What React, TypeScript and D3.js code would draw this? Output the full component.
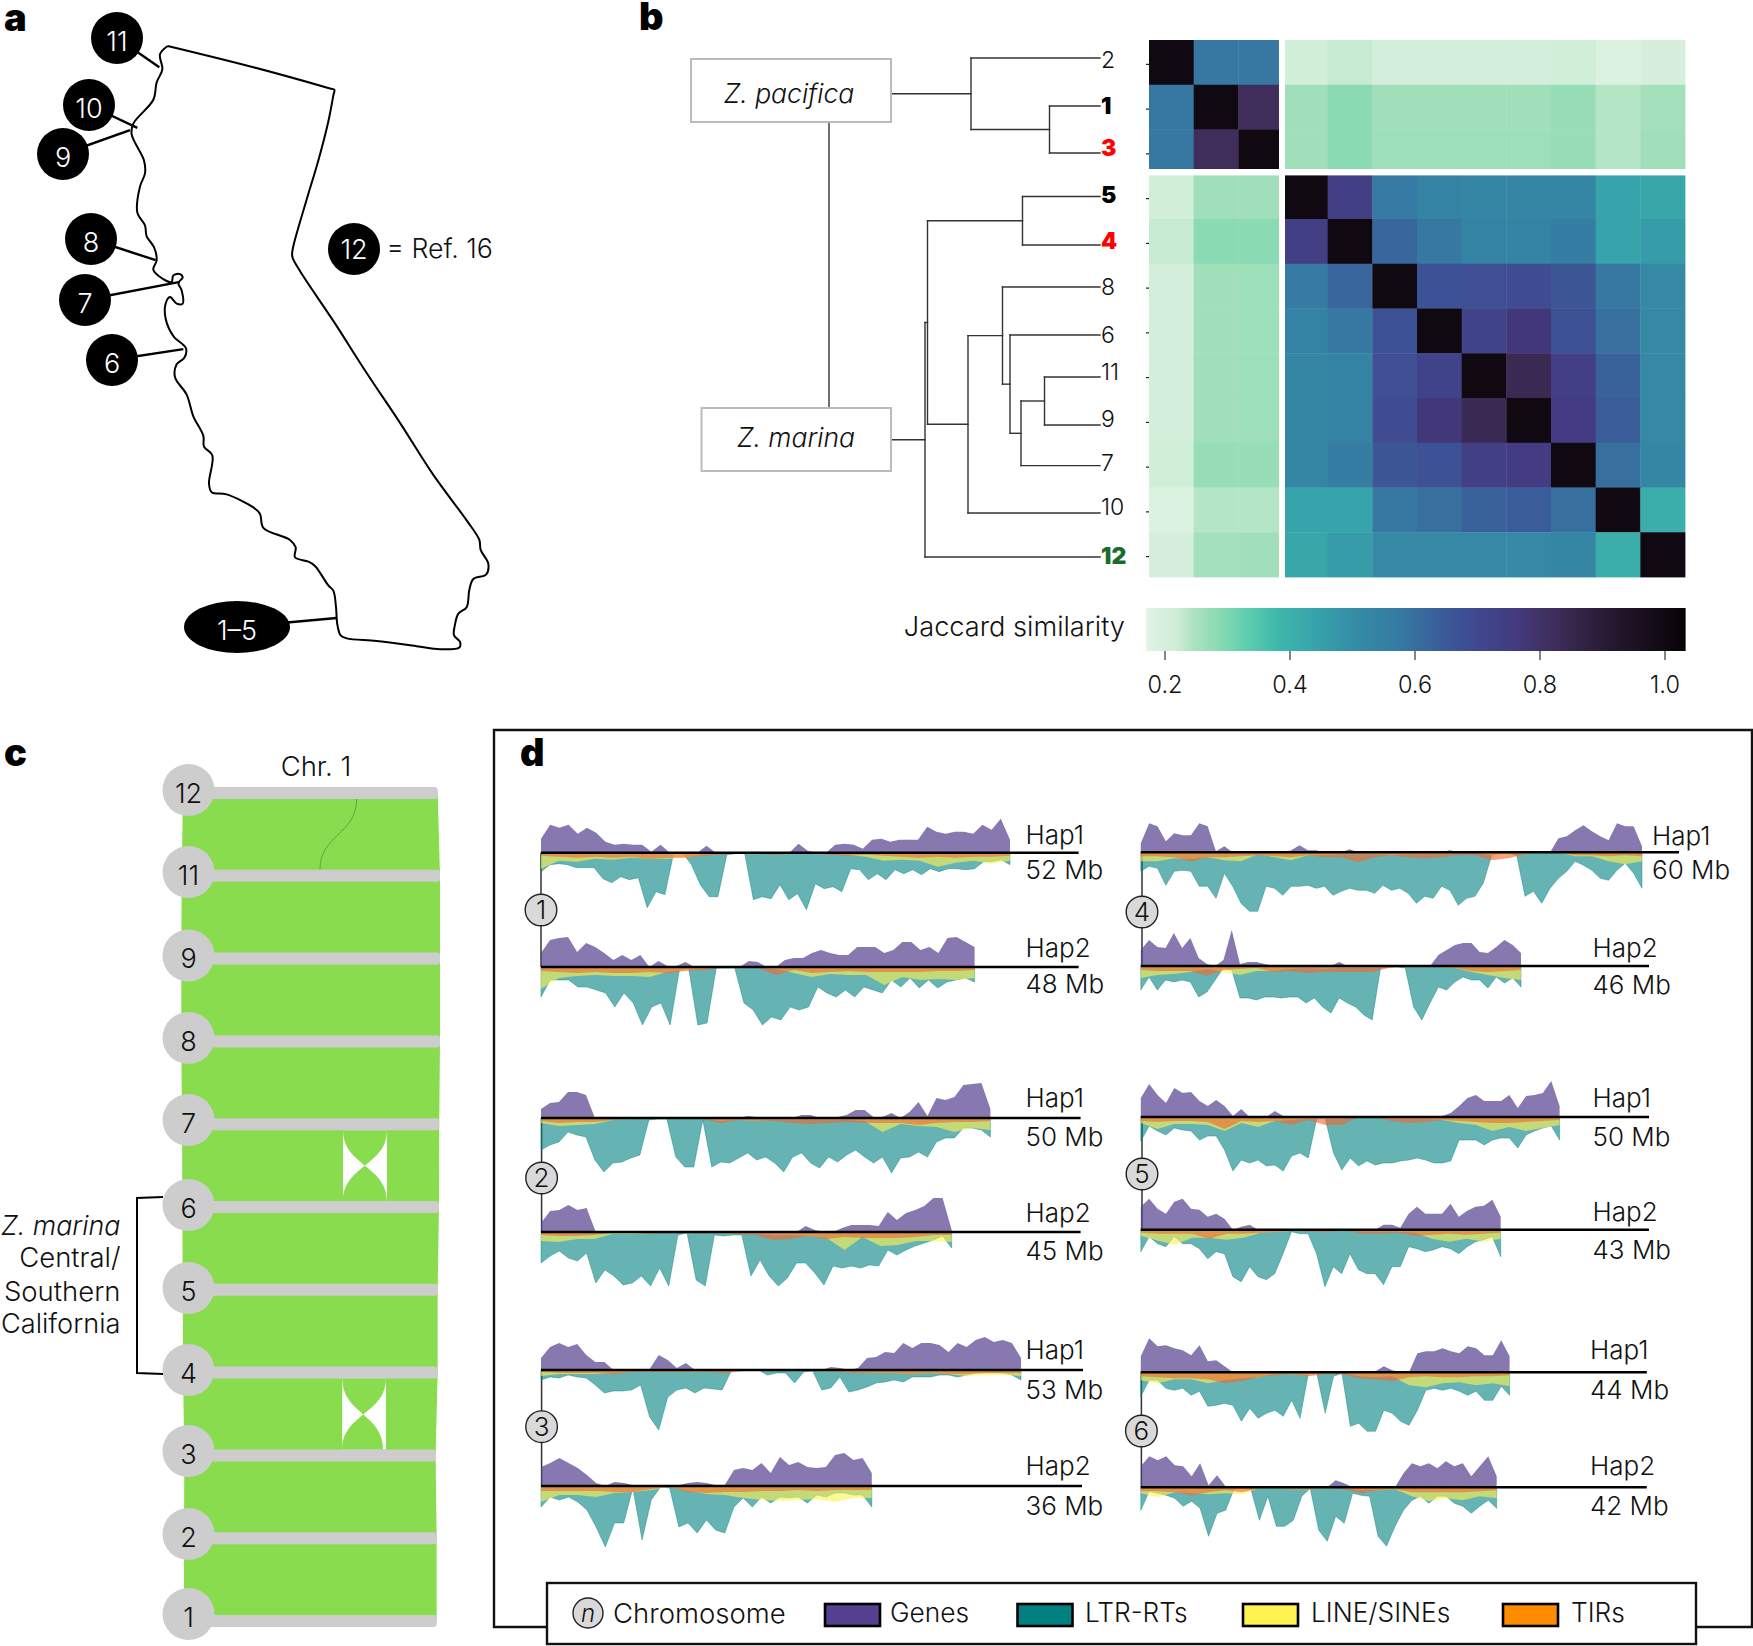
import React from 'react';
import * as d3 from 'd3';

const californiaOutline: [number, number][] = [
  [503,106],[760,155],[990,204],[1003,207],[1000,220],[985,280],[955,370],[920,460],[878,575],[877,592],[900,625],[1000,740],[1100,860],[1200,975],[1300,1095],[1400,1200],[1438,1245],[1442,1268],[1465,1300],[1458,1325],[1420,1335],[1408,1360],[1400,1400],[1375,1415],[1365,1440],[1362,1465],[1380,1480],[1378,1493],[1320,1497],[1250,1490],[1130,1478],[1040,1472],[1022,1465],[1012,1440],[1008,1400],[1000,1362],[985,1350],[945,1305],[925,1295],[885,1285],[887,1262],[870,1245],[790,1217],[780,1185],[760,1170],[680,1140],[635,1135],[627,1115],[637,1050],[612,1030],[610,1005],[580,960],[560,910],[525,870],[530,840],[553,825],[558,803],[520,775],[497,735],[497,700],[510,685],[530,700],[548,700],[545,670],[535,652],[548,640],[540,632],[520,635],[515,650],[500,648],[460,622],[470,600],[462,570],[440,545],[435,520],[412,490],[420,430],[435,400],[432,370],[395,310],[400,285],[460,230],[470,190],[487,160],[480,125],[503,106],
];
const siteLabels = ['11', '10', '9', '8', '7', '6', '1–5'];
const siteMarkers: [number, number][] = [[117,38],[89,105],[63,154],[91,239],[85,300],[112,360],[237,627]];
const siteCoast: [number, number][] = [[478,155],[412,295],[390,300],[467,600],[540,650],[550,805],[1010,1425]];

// panel b
const genomes = ['2', '1', '3', '5', '4', '8', '6', '11', '9', '7', '10', '12'];
const jaccard = [
  [1, .58, .58, .21, .225, .205, .205, .205, .205, .21, .185, .2],
  [.58, 1, .82, .26, .285, .26, .26, .26, .26, .27, .24, .255],
  [.58, .82, 1, .26, .285, .265, .265, .265, .265, .27, .24, .26],
  [.21, .26, .26, 1, .74, .57, .54, .53, .53, .53, .44, .43],
  [.225, .285, .285, .74, 1, .62, .58, .54, .54, .56, .44, .46],
  [.205, .26, .265, .57, .62, 1, .67, .68, .69, .66, .58, .52],
  [.205, .26, .265, .54, .58, .67, 1, .72, .77, .67, .6, .52],
  [.205, .26, .265, .53, .54, .68, .72, 1, .84, .74, .63, .52],
  [.205, .26, .265, .53, .54, .69, .77, .84, 1, .75, .64, .52],
  [.21, .27, .27, .53, .56, .66, .67, .74, .75, 1, .6, .53],
  [.185, .24, .24, .44, .44, .58, .6, .63, .64, .6, 1, .41],
  [.2, .255, .26, .43, .46, .52, .52, .52, .52, .53, .41, 1],
];
const boldTips: Record<string, string> = { '1': '#000', '3': '#f00', '5': '#000', '4': '#f00', '12': '#1a6b2c' };
const colorStops = [.17, .22, .25, .28, .33, .38, .44, .5, .58, .64, .7, .76, .82, .9, 1.033];
const colorValues = ['#e2f4e6', '#cdecd6', '#a8e1bc', '#8fdcb5', '#5ecfae', '#3fb8ac', '#37a3aa', '#348ea6', '#3678a2', '#3a5d9a', '#40488f', '#433a7f', '#3f2e5c', '#2a1b36', '#070305'];
const colorTicks = [.2, .4, .6, .8, 1];
// dendrogram leaves do not sit exactly on the row centres
const tipRows = [58, 106, 153, 196.5, 245, 287, 335, 377, 425, 465.6, 513, 557];
const tipLabelRows = [60, 106, 148, 195, 241, 287, 335, 372, 419, 463, 507, 555.6];

type Branch = { h: number; name?: string; children?: Branch[] };
const pacificaTree: Branch = { h: .258, children: [{ h: 0, name: '2' }, { h: .101, children: [{ h: 0, name: '1' }, { h: 0, name: '3' }] }] };
const marinaTree: Branch = {
  h: .35, children: [
    { h: .345, children: [
      { h: .155, children: [{ h: 0, name: '5' }, { h: 0, name: '4' }] },
      { h: .264, children: [
        { h: .195, children: [
          { h: 0, name: '8' },
          { h: .18, children: [
            { h: 0, name: '6' },
            { h: .158, children: [
              { h: .111, children: [{ h: 0, name: '11' }, { h: 0, name: '9' }] },
              { h: 0, name: '7' },
            ] },
          ] },
        ] },
        { h: 0, name: '10' },
      ] },
    ] },
    { h: 0, name: '12' },
  ],
};

// panel c
const syntenyOrder = ['12', '11', '9', '8', '7', '6', '5', '4', '3', '2', '1'];
const syntenyNodeY = [790, 872, 955.5, 1038, 1120, 1205, 1288, 1370, 1451, 1534, 1614];
const chrStart = [.66, .15, 0, 0, .27, .39, .54, .66, 1.16, 1.04, 1.04];
const chrEnd = [99.1, 100, 100, 100, 99.7, 99.6, 99.1, 99.1, 98.3, 98.7, 98.7];
const inversions = [
  { upper: '7', lower: '6', from: 62.5, to: 79.5, lowerFrom: 62.5, lowerTo: 79.5 },
  { upper: '4', lower: '3', from: 62.2, to: 79.1, lowerFrom: 62.2, lowerTo: 78 },
];
const translocation = { upper: '12', lower: '11', from: 67.8, to: 53.6 };

// panel d: densities read per Mb (genes, LTR-RTs) and per 2 Mb (TIRs, LINE/SINEs)
const c1h1Genes = [14,28,25,28,19,25,20,11,8,9,8,8,1,8,0,0,0,0,7,0,0,0,0,0,0,0,0,0,9,2,0,0,8,9,8,4,13,14,11,13,13,13,26,21,19,21,21,19,28,23,34,13];
const c1h1Ltr = [19,12,11,12,15,15,15,26,30,24,27,25,55,39,42,0,0,12,32,44,44,2,1,0,47,44,46,32,47,41,57,31,36,34,39,16,17,27,21,27,17,21,17,22,16,19,16,16,17,16,9,9,7,12];
const c1h1Tir = [3,4,5,4,5,4,6,5,5,3,2,1,1,2,0,0,2,3,2,3,4,5,4,5,4,4,3];
const c1h1Line = [16,8,9,6,7,5,6,6,5,2,1,1,1,1,0,0,1,2,4,8,7,8,14,10,8,11,8];
const c1h2Genes = [14,27,29,30,15,24,20,14,7,12,7,12,0,6,1,1,5,0,0,0,0,0,0,6,5,0,0,7,9,9,14,17,14,12,12,20,20,20,14,17,25,25,17,20,14,29,30,25,20];
const c1h2Ltr = [30,13,13,13,20,20,23,26,40,26,36,58,40,36,58,3,1,58,56,1,1,1,36,43,58,50,53,40,43,40,20,26,30,23,30,20,23,26,13,20,11,21,13,21,15,13,11,15];
const c1h2Tir = [4,5,6,5,6,6,5,6,4,3,1,0,1,8,3,6,5,4,5,5,5,5,4,4,3];
const c1h2Line = [22,11,9,8,9,9,10,5,3,2,0,0,1,2,6,10,7,8,8,18,10,13,12,13,11];
const c4h1Genes = [9,29,26,11,19,17,17,29,26,1,6,0,0,0,0,0,0,0,2,7,2,2,0,0,0,3,0,0,0,0,0,0,0,0,0,0,0,2,0,0,0,0,0,0,0,0,0,0,0,0,14,16,22,27,21,16,12,29,26,26,6];
const c4h1Ltr = [19,14,16,33,19,18,19,34,34,46,21,34,51,59,59,34,36,43,34,34,33,36,34,43,39,36,38,38,41,33,38,36,41,51,44,46,34,38,53,46,44,31,3,1,1,3,44,39,51,36,26,19,9,13,18,26,28,18,11,21,36];
const c4h1Tir = [4,4,5,9,5,5,4,3,4,5,3,5,5,10,5,3,5,6,5,3,3,8,6,2,0,0,3,3,4,3,4];
const c4h1Line = [9,9,6,7,5,8,9,2,5,8,3,3,2,2,2,3,2,2,2,2,1,3,2,2,0,0,4,4,9,12,9];
const c4h2Genes = [16,26,19,18,33,18,28,8,2,0,6,36,2,4,4,2,0,0,0,0,0,0,0,0,4,0,0,0,0,0,0,0,0,0,0,0,11,16,21,23,23,14,13,19,26,21,13];
const c4h2Ltr = [24,11,24,14,16,14,16,31,26,14,2,4,32,32,34,31,31,32,31,31,37,32,41,47,32,37,41,49,54,2,1,1,2,41,54,37,21,24,16,11,14,14,22,11,17,12,21];
const c4h2Tir = [4,5,5,5,10,4,3,2,6,5,7,6,6,6,6,2,0,0,1,2,5,6,5,4];
const c4h2Line = [12,9,8,6,3,6,9,5,5,3,2,3,2,2,2,1,0,0,1,2,6,9,12,14];
const c2h1Genes = [9,15,16,26,26,23,0,0,0,0,0,0,0,0,0,0,0,0,0,0,0,0,0,2,1,0,0,0,0,3,3,0,0,1,3,8,8,1,1,5,0,6,16,2,20,18,21,33,34,35,9];
const c2h1Ltr = [32,27,24,14,17,19,42,54,45,44,40,37,2,1,1,39,49,49,2,49,44,45,40,35,42,39,45,54,39,35,45,50,39,44,37,32,39,45,39,55,40,39,34,39,24,20,20,10,10,12,19];
const c2h1Tir = [3,5,4,4,2,1,1,0,1,1,5,2,3,3,5,6,5,4,5,5,5,7,5,4,4,3];
const c2h1Line = [5,8,7,6,2,1,1,0,1,1,3,2,3,2,2,2,2,2,3,14,6,8,9,14,10,12];
const c2h2Genes = [9,21,22,27,22,24,0,0,0,0,0,0,0,0,0,0,0,0,0,0,0,0,1,0,0,0,0,0,0,6,2,0,0,4,7,7,7,6,20,12,19,22,26,34,34,2];
const c2h2Ltr = [31,24,19,26,29,21,51,38,44,53,51,44,54,36,54,3,1,48,54,3,4,3,3,44,28,44,54,46,31,31,41,53,34,36,34,36,33,34,18,23,18,14,11,8,4,16];
const c2h2Tir = [3,4,4,3,1,1,2,0,0,1,1,2,3,8,7,4,7,5,6,6,6,5,3,3];
const c2h2Line = [9,10,7,7,2,2,2,0,0,1,1,2,2,3,3,4,6,18,5,14,13,9,9,10];
const c5h1Genes = [19,33,22,14,29,24,25,16,11,17,11,1,8,0,0,0,6,1,0,0,0,0,0,0,0,0,0,0,0,0,0,0,0,0,0,0,1,4,11,19,22,16,16,16,22,9,21,22,24,36,11];
const c5h1Ltr = [24,9,14,18,11,13,14,23,19,19,33,54,43,46,43,49,48,54,39,36,41,2,1,36,53,41,49,44,48,46,46,44,43,41,43,46,46,44,23,23,23,28,23,21,21,31,18,14,11,9,23];
const c5h1Tir = [4,5,4,4,5,12,4,5,4,8,3,8,8,0,0,4,6,5,3,4,5,6,6,5,4,3];
const c5h1Line = [6,12,7,7,8,14,6,10,4,3,2,2,2,0,0,2,2,2,3,6,8,14,10,14,11,8];
const c5h2Genes = [23,31,21,16,28,31,21,20,13,16,11,0,3,5,0,0,0,0,0,0,0,0,0,0,0,0,0,0,0,5,5,2,16,23,16,16,16,26,13,19,23,24,30,13];
const c5h2Ltr = [22,7,14,17,7,14,14,19,29,22,24,47,52,37,47,50,44,24,2,4,4,24,57,37,44,24,40,44,44,55,37,37,17,19,22,20,17,19,24,17,12,10,7,27];
const c5h2Tir = [3,4,4,4,9,4,4,3,2,1,2,2,1,4,4,3,6,5,4,5,4,3];
const c5h2Line = [6,11,15,8,8,10,8,3,2,1,1,1,1,2,2,2,3,9,12,9,12,9];
const c3h1Genes = [12,23,27,23,26,15,8,8,0,0,0,0,1,15,10,2,7,0,0,0,0,0,0,0,0,0,0,0,0,0,0,0,3,2,0,2,12,13,18,17,27,22,27,27,25,18,27,23,30,33,28,30,27,12];
const c3h1Ltr = [10,7,8,5,7,8,15,23,21,21,20,15,47,60,27,20,18,23,18,19,20,1,0,0,0,5,3,3,13,2,1,20,18,7,22,20,17,13,12,10,12,7,7,7,5,5,7,5,3,3,3,3,5,10];
const c3h1Tir = [2,3,3,3,4,2,2,2,2,2,3,1,0,1,0,1,2,3,3,3,4,3,4,4,3,3,3];
const c3h1Line = [6,4,4,4,3,2,2,2,2,2,2,1,0,1,0,1,2,2,3,3,4,3,4,6,5,5,6];
const c3h2Genes = [19,23,28,23,18,11,3,0,4,3,1,0,0,0,0,1,3,4,3,1,1,16,18,16,23,13,29,21,24,19,18,19,31,33,26,28,13];
const c3h2Ltr = [21,11,14,11,16,24,41,61,37,37,2,54,14,1,2,41,37,47,34,44,47,21,12,21,11,17,11,12,11,17,9,11,7,7,9,9,21];
const c3h2Tir = [5,5,5,5,6,6,3,1,6,7,6,6,5,5,4,5,4,4,4];
const c3h2Line = [16,9,9,11,7,6,4,1,5,8,9,12,14,15,14,13,16,12,12];
const c6h1Genes = [16,34,26,27,24,22,17,27,11,12,6,0,0,0,0,0,0,0,0,0,0,0,0,0,0,0,0,0,1,6,2,0,0,19,21,21,24,21,19,26,24,17,17,32,16];
const c6h1Ltr = [24,8,8,16,18,16,23,19,34,33,31,33,49,36,46,41,38,44,28,46,1,1,41,4,1,54,51,59,59,38,41,49,53,38,18,16,18,16,19,23,19,28,28,14,23];
const c6h1Tir = [4,5,6,6,7,11,9,5,3,2,4,2,2,6,7,9,5,4,5,5,4,4,3];
const c6h1Line = [8,11,7,7,11,8,6,5,2,2,3,1,1,4,5,4,13,15,11,10,13,11,14];
const c6h2Genes = [21,31,27,31,22,21,11,24,2,12,1,0,0,0,0,0,0,0,0,0,0,0,0,7,4,0,0,0,0,0,0,14,24,21,24,19,26,21,24,11,21,31,11];
const c6h2Ltr = [23,4,6,8,11,19,14,21,49,26,23,2,1,2,33,9,39,39,33,9,1,43,54,29,36,6,8,9,49,59,39,23,13,9,16,9,9,16,19,26,19,13,21];
const c6h2Tir = [4,4,5,8,5,3,5,1,1,2,2,1,2,6,3,2,5,5,5,5,4,3];
const c6h2Line = [6,10,5,6,7,6,7,1,1,2,2,1,1,3,3,2,9,14,11,13,9,11];

const chromosomes = [
  { n: 1, col: 0, cx: 541, cy: 910, labelX: 1025.5, haps: [
    { mb: 52, base: 852.7, endX: 1010, lineEnd: 1078.6, hapY: 835, mbY: 870, genes: c1h1Genes, ltr: c1h1Ltr, tir: c1h1Tir, line: c1h1Line },
    { mb: 48, base: 967, endX: 974.6, lineEnd: 1078.6, hapY: 947.7, mbY: 984, genes: c1h2Genes, ltr: c1h2Ltr, tir: c1h2Tir, line: c1h2Line },
  ] },
  { n: 2, col: 0, cx: 541.6, cy: 1178, labelX: 1025.5, haps: [
    { mb: 50, base: 1118, endX: 990.4, lineEnd: 1080.6, hapY: 1098, mbY: 1136.7, genes: c2h1Genes, ltr: c2h1Ltr, tir: c2h1Tir, line: c2h1Line },
    { mb: 45, base: 1232, endX: 951.7, lineEnd: 1080.6, hapY: 1212.7, mbY: 1250.7, genes: c2h2Genes, ltr: c2h2Ltr, tir: c2h2Tir, line: c2h2Line },
  ] },
  { n: 3, col: 0, cx: 541.6, cy: 1426.7, labelX: 1025.5, haps: [
    { mb: 53, base: 1370, endX: 1021, lineEnd: 1083, hapY: 1350, mbY: 1390, genes: c3h1Genes, ltr: c3h1Ltr, tir: c3h1Tir, line: c3h1Line },
    { mb: 36, base: 1486, endX: 871.8, lineEnd: 1082, hapY: 1465.7, mbY: 1506, genes: c3h2Genes, ltr: c3h2Ltr, tir: c3h2Tir, line: c3h2Line },
  ] },
  { n: 4, col: 1, cx: 1142, cy: 912, labelX: 1652, haps: [
    { mb: 60, base: 852.3, endX: 1642, lineEnd: 1679, hapY: 835.7, mbY: 870, genes: c4h1Genes, ltr: c4h1Ltr, tir: c4h1Tir, line: c4h1Line },
    { mb: 46, base: 966, endX: 1521, lineEnd: 1649, hapY: 947.7, mbY: 985, labelX: 1592.5, genes: c4h2Genes, ltr: c4h2Ltr, tir: c4h2Tir, line: c4h2Line },
  ] },
  { n: 5, col: 1, cx: 1142, cy: 1174, labelX: 1592.5, haps: [
    { mb: 50, base: 1117, endX: 1559.6, lineEnd: 1649, hapY: 1097.7, mbY: 1136.7, genes: c5h1Genes, ltr: c5h1Ltr, tir: c5h1Tir, line: c5h1Line },
    { mb: 43, base: 1229.7, endX: 1500.7, lineEnd: 1649, hapY: 1211.7, mbY: 1250, genes: c5h2Genes, ltr: c5h2Ltr, tir: c5h2Tir, line: c5h2Line },
  ] },
  { n: 6, col: 1, cx: 1141.4, cy: 1431, labelX: 1590, haps: [
    { mb: 44, base: 1372.3, endX: 1509.6, lineEnd: 1646.8, hapY: 1350, mbY: 1390, genes: c6h1Genes, ltr: c6h1Ltr, tir: c6h1Tir, line: c6h1Line },
    { mb: 42, base: 1487.3, endX: 1496.7, lineEnd: 1646.8, hapY: 1465.7, mbY: 1505.7, genes: c6h2Genes, ltr: c6h2Ltr, tir: c6h2Tir, line: c6h2Line },
  ] },
];
const columnStart = [541, 1140.8];
const legendItems = [
  { label: 'Genes', color: '#54408f', x: 825, tx: 890 },
  { label: 'LTR-RTs', color: '#008080', x: 1017.5, tx: 1085 },
  { label: 'LINE/SINEs', color: '#fff350', x: 1243, tx: 1311 },
  { label: 'TIRs', color: '#ff8c00', x: 1503, tx: 1571 },
];

const FONT = 'Inter, Roboto, sans-serif';

const Label: React.FC<any> = ({ x, y, size = 26, children, ...rest }) => (
  <text x={x} y={y} dy="0.36em" fontSize={size} fontFamily={FONT} fontWeight={300} fill="#111" {...rest}>{children}</text>
);

const PanelLetter: React.FC<{ x: number; y: number; t: string }> = ({ x, y, t }) => (
  <text x={x} y={y} fontSize={38} fontFamily={FONT} fontWeight={900} fill="#000">{t}</text>
);

const MapPanel = () => {
  const mx = d3.scaleLinear().domain([0, 1560]).range([0, 520]);
  const my = d3.scaleLinear().domain([0, 1568]).range([0, 680]);
  const outline = d3.line<[number, number]>().x(d => mx(d[0])).y(d => my(d[1])).curve(d3.curveCatmullRom.alpha(0.5));
  return (
    <g>
      <path d={outline(californiaOutline)!} fill="none" stroke="#000" strokeWidth={2} />
      {siteLabels.map((s, i) => (
        <g key={s}>
          <line x1={siteMarkers[i][0]} y1={siteMarkers[i][1]} x2={mx(siteCoast[i][0])} y2={my(siteCoast[i][1])} stroke="#000" strokeWidth={2.4} />
          <ellipse cx={siteMarkers[i][0]} cy={siteMarkers[i][1]} rx={s === '1–5' ? 53 : 26} ry={26} fill="#000" />
          <Label x={siteMarkers[i][0]} y={siteMarkers[i][1] + 3} size={27} textAnchor="middle" fill="#fff">{s}</Label>
        </g>
      ))}
      <circle cx={354} cy={249} r={26} fill="#000" />
      <Label x={354} y={249} size={27} textAnchor="middle" fill="#fff">12</Label>
      <Label x={386.5} y={248.5} size={26.7}>= Ref. 16</Label>
    </g>
  );
};

const TreeBranches: React.FC<{ data: Branch; tx: (h: number) => number; tipY: (name: string) => number; stemFrom: number }> = ({ data, tx, tipY, stemFrom }) => {
  const root = d3.hierarchy(data);
  const yOf = new Map<any, number>();
  root.eachAfter(n => {
    if (n.children) {
      yOf.set(n, (yOf.get(n.children[0])! + yOf.get(n.children[n.children.length - 1])!) / 2);
    } else {
      yOf.set(n, tipY(n.data.name!));
    }
  });
  const segs: [number, number, number, number][] = [[stemFrom, yOf.get(root)!, tx(root.data.h), yOf.get(root)!]];
  root.each(n => {
    if (!n.children) return;
    const x = tx(n.data.h);
    segs.push([x, yOf.get(n.children[0])!, x, yOf.get(n.children[n.children.length - 1])!]);
    n.children.forEach(c => segs.push([x, yOf.get(c)!, tx(c.data.h), yOf.get(c)!]));
  });
  return <g stroke="#333" strokeWidth={1.4}>{segs.map((s, i) => <line key={i} x1={s[0]} y1={s[1]} x2={s[2]} y2={s[3]} strokeLinecap="square" />)}</g>;
};

const HeatPanel = () => {
  const bx = d3.scaleBand().domain(genomes).range([1149, 1685]);
  const by = d3.scaleBand().domain(genomes).range([40, 577]);
  const color = d3.scaleLinear<string>().domain(colorStops).range(colorValues).interpolate(d3.interpolateRgb);
  const barX = d3.scaleLinear().domain([.2, 1]).range([1165, 1665]);
  const offset = d3.scaleLinear().domain([colorStops[0], colorStops[colorStops.length - 1]]).range([0, 100]);
  const tx = d3.scaleLinear().domain([0, .35]).range([1100, 925]);
  const tipY = (name: string) => tipRows[genomes.indexOf(name)];
  const rowMid = (g: string) => by(g)! + by.bandwidth() / 2;
  return (
    <g>
      <defs>
        <linearGradient id="jaccardRamp" x1="0" x2="1" y1="0" y2="0">
          {colorStops.map((s, i) => <stop key={s} offset={`${offset(s)}%`} stopColor={colorValues[i]} />)}
        </linearGradient>
      </defs>
      {jaccard.map((row, r) => row.map((v, c) => (
        <rect key={`${r}-${c}`} x={bx(genomes[c])} y={by(genomes[r])} width={bx.bandwidth() + .4} height={by.bandwidth() + .4} fill={color(v)} />
      )))}
      <rect x={1279} y={38} width={6} height={541} fill="#fff" />
      <rect x={1147} y={169} width={540} height={6.4} fill="#fff" />
      {genomes.map(g => <line key={g} x1={1146} x2={1149} y1={rowMid(g) + 2} y2={rowMid(g) + 2} stroke="#222" strokeWidth={1.2} />)}
      <TreeBranches data={pacificaTree} tx={tx} tipY={tipY} stemFrom={892} />
      <TreeBranches data={marinaTree} tx={tx} tipY={tipY} stemFrom={892} />
      {genomes.map((g, i) => (
        <Label key={g} x={1101} y={tipLabelRows[i]} size={23} fontWeight={boldTips[g] ? 900 : 300} fill={boldTips[g] || '#111'}>{g}</Label>
      ))}
      <line x1={829} x2={829} y1={123} y2={407} stroke="#333" strokeWidth={1.4} />
      <rect x={691} y={59} width={200} height={63} fill="#fff" stroke="#bbb" strokeWidth={2} />
      <rect x={701.5} y={408} width={189.5} height={63} fill="#fff" stroke="#bbb" strokeWidth={2} />
      <Label x={789} y={93} size={26.5} textAnchor="middle" fontStyle="italic">Z. pacifica</Label>
      <Label x={796} y={437} size={26.5} textAnchor="middle" fontStyle="italic">Z. marina</Label>
      <Label x={1125} y={626} size={27.2} textAnchor="end">Jaccard similarity</Label>
      <rect x={barX(.17)} y={608} width={barX(1.033) - barX(.17)} height={43} fill="url(#jaccardRamp)" />
      {colorTicks.map(t => (
        <g key={t}>
          <line x1={barX(t)} x2={barX(t)} y1={651} y2={660} stroke="#333" strokeWidth={1.2} />
          <Label x={barX(t)} y={685} size={23.5} textAnchor="middle">{t.toFixed(1)}</Label>
        </g>
      ))}
    </g>
  );
};

const SyntenyPanel = () => {
  const sy = d3.scalePoint().domain(syntenyOrder).range([793, 1621]);
  const sx = d3.scaleLinear().domain([0, 100]).range([181.3, 440]);
  const ribbon = d3.area<string>()
    .y(d => sy(d)!)
    .x0((_, i) => sx(chrStart[i]))
    .x1((_, i) => sx(chrEnd[i]));
  const link = d3.linkVertical<any, [number, number]>().x(d => d[0]).y(d => d[1]);
  const endLink = (a: [number, number], b: [number, number]) => link({ source: a, target: b })!.replace('M', 'L');
  return (
    <g>
      <path d={ribbon(syntenyOrder)!} fill="#88dc4e" />
      {inversions.map(inv => {
        const top = sy(inv.upper)! + 6;
        const bot = sy(inv.lower)! - 6;
        const xl = sx(inv.from), xr = sx(inv.to), lxl = sx(inv.lowerFrom), lxr = sx(inv.lowerTo);
        const d = `M${xl},${top}L${xr},${top}${endLink([xr, top], [lxl, bot])}L${lxr},${bot}${endLink([lxr, bot], [xl, top])}Z`;
        return (
          <g key={inv.upper}>
            <rect x={xl} y={top} width={xr - xl} height={bot - top} fill="#fff" />
            <path d={d} fill="#88dc4e" />
          </g>
        );
      })}
      <path d={link({ source: [sx(translocation.from), sy(translocation.upper)! + 6], target: [sx(translocation.to), sy(translocation.lower)! - 6] })!} fill="none" stroke="#4a7a3a" strokeWidth={0.6} />
      {syntenyOrder.map((s, i) => (
        <rect key={s} x={185} y={sy(s)! - 6} width={sx(chrEnd[i]) - 185} height={12} rx={3} fill="#cdcdcd" />
      ))}
      {syntenyOrder.map((s, i) => (
        <g key={s}>
          <circle cx={188.5} cy={syntenyNodeY[i]} r={26} fill="#cdcdcd" />
          <Label x={188.5} y={syntenyNodeY[i] + 3} size={27} textAnchor="middle">{s}</Label>
        </g>
      ))}
      <Label x={316} y={766} size={27.5} textAnchor="middle">Chr. 1</Label>
      <path d="M163,1197L137,1198L137,1373L163,1374" fill="none" stroke="#000" strokeWidth={2} />
      <Label x={120.5} y={1225} size={26.8} textAnchor="end" fontStyle="italic">Z. marina</Label>
      <Label x={120.5} y={1257} size={27.5} textAnchor="end">Central/</Label>
      <Label x={120.5} y={1291} size={27.5} textAnchor="end">Southern</Label>
      <Label x={120.5} y={1323} size={27.2} textAnchor="end">California</Label>
    </g>
  );
};

const HapTrack: React.FC<{ hap: any; col: number }> = ({ hap, col }) => {
  const x0 = columnStart[col];
  const up = d3.scaleLinear().domain([0, 60]).range([hap.base, hap.base - 60]);
  const down = d3.scaleLinear().domain([0, 60]).range([hap.base, hap.base + 60]);
  const areaFor = (values: number[], y: d3.ScaleLinear<number, number>) => {
    const x = d3.scaleLinear().domain([0, values.length - 1]).range([x0, hap.endX]);
    return d3.area<number>().x((_, i) => x(i)).y0(hap.base).y1(d => y(d))(values)!;
  };
  return (
    <g>
      <path d={areaFor(hap.ltr, down)} fill="#008080" fillOpacity={0.6} stroke="#008080" strokeOpacity={0.5} strokeWidth={0.8} />
      <path d={areaFor(hap.line, down)} fill="#fff350" fillOpacity={0.6} />
      <path d={areaFor(hap.tir, down)} fill="#f4652a" fillOpacity={0.6} />
      <path d={areaFor(hap.genes, up)} fill="#54408f" fillOpacity={0.7} />
      <line x1={x0} x2={hap.lineEnd} y1={hap.base} y2={hap.base} stroke="#000" strokeWidth={2.4} />
    </g>
  );
};

const GenomePanel = () => (
  <g>
    <path d="M547,1627L494,1627L494,730L1752,730L1752,1627L1696,1627" fill="none" stroke="#111" strokeWidth={2.4} />
    {chromosomes.map(c => (
      <g key={c.n}>
        <line x1={c.cx} x2={c.cx} y1={c.haps[0].base} y2={c.haps[1].base} stroke="#333" strokeWidth={1.5} />
        {c.haps.map((h, i) => (
          <g key={i}>
            <HapTrack hap={h} col={c.col} />
            <Label x={(h as any).labelX ?? c.labelX} y={h.hapY}>{`Hap${i + 1}`}</Label>
            <Label x={(h as any).labelX ?? c.labelX} y={h.mbY}>{`${h.mb} Mb`}</Label>
          </g>
        ))}
        <circle cx={c.cx} cy={c.cy} r={15.8} fill="#d9d9d9" stroke="#222" strokeWidth={1.4} />
        <Label x={c.cx} y={c.cy} textAnchor="middle">{c.n}</Label>
      </g>
    ))}
    <rect x={547} y={1583} width={1149} height={61} fill="#fff" stroke="#111" strokeWidth={2.4} />
    <circle cx={588} cy={1613} r={15} fill="#d9d9d9" stroke="#222" strokeWidth={1.4} />
    <Label x={588} y={1613} size={24} textAnchor="middle" fontStyle="italic">n</Label>
    <Label x={613} y={1613} size={27.5}>Chromosome</Label>
    {legendItems.map(l => (
      <g key={l.label}>
        <rect x={l.x} y={1604} width={55} height={22} fill={l.color} stroke="#000" strokeWidth={2.6} />
        <Label x={l.tx} y={1613} size={26.3}>{l.label}</Label>
      </g>
    ))}
  </g>
);

export default function App() {
  return (
    <svg width={1753} height={1646} viewBox="0 0 1753 1646" style={{ position: 'absolute', left: 0, top: 0, display: 'block', background: '#fff' }}>
      <PanelLetter x={4} y={31} t="a" />
      <PanelLetter x={639} y={30} t="b" />
      <PanelLetter x={4} y={766} t="c" />
      <PanelLetter x={520} y={766} t="d" />
      <MapPanel />
      <HeatPanel />
      <SyntenyPanel />
      <GenomePanel />
    </svg>
  );
}
